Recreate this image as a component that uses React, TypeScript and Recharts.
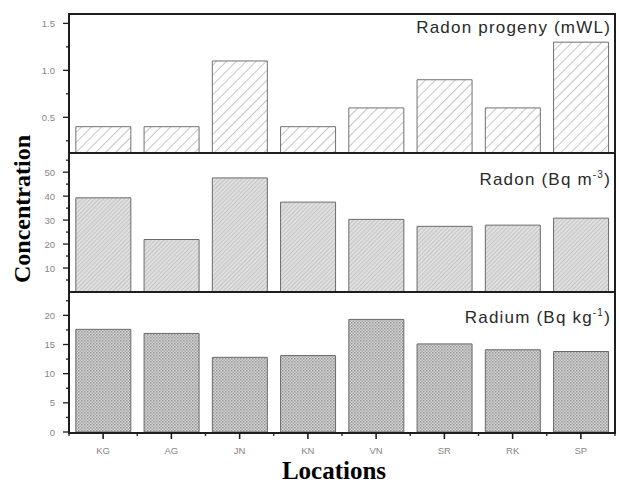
import React from "react"
import { Bar, BarChart, XAxis, YAxis } from "recharts"

const locations = ["KG", "AG", "JN", "KN", "VN", "SR", "RK", "SP"]
const progeny = [0.4, 0.4, 1.1, 0.4, 0.6, 0.9, 0.6, 1.3]
const radon = [39.3, 21.9, 47.6, 37.5, 30.3, 27.4, 27.9, 30.8]
const radium = [17.6, 16.9, 12.8, 13.1, 19.3, 15.1, 14.1, 13.8]

const progenyTicks = [0.25, 0.5, 0.75, 1.0, 1.25, 1.5]
const progenyLabels = [0.5, 1.0, 1.5]
const radonTicks = [5, 10, 15, 20, 25, 30, 35, 40, 45, 50, 55]
const radonLabels = [10, 20, 30, 40, 50]
const radiumTicks = [0, 2.5, 5, 7.5, 10, 12.5, 15, 17.5, 20, 22.5]
const radiumLabels = [0, 5, 10, 15, 20]

const W = 619
const LEFT = 69
const RIGHT = 4
const BAND = (W - LEFT - RIGHT) / locations.length
const FRAME = "#1e1e1e"
const TICK_TEXT = "#858585"

const rows = locations.map((name, i) => ({
    name,
    progeny: progeny[i],
    radon: radon[i],
    radium: radium[i],
}))

function makeYTick(labels: number[], fmt: (v: number) => string) {
    return (props: any) => {
        const { x, y, payload } = props
        const major = labels.includes(payload.value)
        return (
            <g>
                <line x1={x - (major ? 6 : 3)} x2={x} y1={y} y2={y} stroke={FRAME} strokeWidth={1.3} />
                {major && (
                    <text x={x - 14} y={y} dy={3.5} textAnchor="end" fontSize={9.5} fill={TICK_TEXT} fontFamily="Arial, Liberation Sans">
                        {fmt(payload.value)}
                    </text>
                )}
            </g>
        )
    }
}

function XTick(props: any) {
    const { x, y, payload, index } = props
    return (
        <g>
            <line x1={x} x2={x} y1={y} y2={y + 7} stroke={FRAME} strokeWidth={1.6} />
            <line x1={x - BAND / 2} x2={x - BAND / 2} y1={y} y2={y + 4} stroke={FRAME} strokeWidth={1.3} />
            {index === locations.length - 1 && (
                <line x1={x + BAND / 2} x2={x + BAND / 2} y1={y} y2={y + 4} stroke={FRAME} strokeWidth={1.3} />
            )}
            <text x={x} y={y + 22} textAnchor="middle" fontSize={9.5} fill={TICK_TEXT} fontFamily="Arial, Liberation Sans">
                {payload.value}
            </text>
        </g>
    )
}

function Patterns() {
    return (
        <defs>
            <pattern id="hatchWide" width="7" height="7" patternUnits="userSpaceOnUse" patternTransform="rotate(45)">
                <rect width="7" height="7" fill="#ffffff" />
                <line x1="0" y1="0" x2="0" y2="7" stroke="#8c8c8c" strokeWidth="1" />
            </pattern>
            <pattern id="hatchDense" width="3" height="3" patternUnits="userSpaceOnUse" patternTransform="rotate(45)">
                <rect width="3" height="3" fill="#e0e0e0" />
                <line x1="0" y1="0" x2="0" y2="3" stroke="#a2a2a2" strokeWidth="0.9" />
            </pattern>
            <pattern id="dots" width="3" height="3" patternUnits="userSpaceOnUse">
                <rect width="3" height="3" fill="#d4d4d4" />
                <rect x="0" y="0" width="1.5" height="1.5" fill="#969696" />
                <rect x="1.5" y="1.5" width="1.5" height="1.5" fill="#aaaaaa" />
            </pattern>
        </defs>
    )
}

const panelTitle: React.CSSProperties = {
    position: "absolute",
    right: 8,
    fontFamily: "Arial, 'Liberation Sans', sans-serif",
    fontSize: 17,
    letterSpacing: 1.2,
    color: "#2a2a2a",
    whiteSpace: "nowrap",
    lineHeight: 1,
}

const hLine = (top: number): React.CSSProperties => ({
    position: "absolute",
    left: LEFT - 1,
    top: top - 1,
    width: W - LEFT - RIGHT + 2,
    height: 2,
    background: FRAME,
})

export default function App() {
    return (
        <div style={{ position: "absolute", left: 0, top: 0, width: W, height: 482, background: "#fff" }}>
            {/* top panel: radon progeny */}
            <div style={{ position: "absolute", left: 0, top: 0 }}>
                <BarChart width={W} height={153} data={rows} margin={{ top: 14, right: RIGHT, left: 0, bottom: 0 }} barCategoryGap="10%">
                    <Patterns />
                    <XAxis dataKey="name" hide />
                    <YAxis
                        width={LEFT}
                        domain={[0.12, 1.6]}
                        ticks={progenyTicks}
                        interval={0}
                        tickSize={0}
                        tickMargin={0}
                        tickLine={false}
                        axisLine={false}
                        allowDataOverflow
                        tick={makeYTick(progenyLabels, (v) => v.toFixed(1))}
                    />
                    <Bar dataKey="progeny" fill="url(#hatchWide)" stroke="#707070" strokeWidth={1} isAnimationActive={false} />
                </BarChart>
                <div style={{ ...panelTitle, top: 19 }}>Radon progeny (mWL)</div>
            </div>

            {/* middle panel: radon */}
            <div style={{ position: "absolute", left: 0, top: 153 }}>
                <BarChart width={W} height={139} data={rows} margin={{ top: 0, right: RIGHT, left: 0, bottom: 0 }} barCategoryGap="10%">
                    <Patterns />
                    <XAxis dataKey="name" hide />
                    <YAxis
                        width={LEFT}
                        domain={[0, 58]}
                        ticks={radonTicks}
                        interval={0}
                        tickSize={0}
                        tickMargin={0}
                        tickLine={false}
                        axisLine={false}
                        allowDataOverflow
                        tick={makeYTick(radonLabels, (v) => String(v))}
                    />
                    <Bar dataKey="radon" fill="url(#hatchDense)" stroke="#6a6a6a" strokeWidth={1} isAnimationActive={false} />
                </BarChart>
                <div style={{ ...panelTitle, top: 17 }}>
                    Radon (Bq m<sup style={{ fontSize: 10 }}>-3</sup>)
                </div>
            </div>

            {/* bottom panel: radium */}
            <div style={{ position: "absolute", left: 0, top: 292 }}>
                <BarChart width={W} height={190} data={rows} margin={{ top: 0, right: RIGHT, left: 0, bottom: 0 }} barCategoryGap="10%">
                    <Patterns />
                    <XAxis
                        dataKey="name"
                        height={50}
                        interval={0}
                        tickSize={0}
                        tickMargin={0}
                        tickLine={false}
                        axisLine={false}
                        tick={<XTick />}
                    />
                    <YAxis
                        width={LEFT}
                        domain={[0, 24]}
                        ticks={radiumTicks}
                        interval={0}
                        tickSize={0}
                        tickMargin={0}
                        tickLine={false}
                        axisLine={false}
                        allowDataOverflow
                        tick={makeYTick(radiumLabels, (v) => String(v))}
                    />
                    <Bar dataKey="radium" fill="url(#dots)" stroke="#6a6a6a" strokeWidth={1} isAnimationActive={false} />
                </BarChart>
                <div style={{ ...panelTitle, top: 16 }}>
                    Radium (Bq kg<sup style={{ fontSize: 10 }}>-1</sup>)
                </div>
            </div>

            {/* frame around the three panels */}
            <div
                style={{
                    position: "absolute",
                    left: LEFT - 1,
                    top: 13,
                    width: W - LEFT - RIGHT - 2,
                    height: 432 - 13 - 2,
                    border: `2px solid ${FRAME}`,
                    pointerEvents: "none",
                }}
            />
            <div style={hLine(153)} />
            <div style={hLine(292)} />

            {/* axis titles */}
            <div
                style={{
                    position: "absolute",
                    left: 22,
                    top: 209,
                    transform: "translate(-50%, -50%) rotate(-90deg)",
                    fontFamily: "'Times New Roman', 'Liberation Serif', serif",
                    fontWeight: "bold",
                    fontSize: 24,
                    whiteSpace: "nowrap",
                    lineHeight: 1,
                }}
            >
                Concentration
            </div>
            <div
                style={{
                    position: "absolute",
                    left: 334,
                    top: 470,
                    transform: "translate(-50%, -50%)",
                    fontFamily: "'Times New Roman', 'Liberation Serif', serif",
                    fontWeight: "bold",
                    fontSize: 25,
                    whiteSpace: "nowrap",
                    lineHeight: 1,
                }}
            >
                Locations
            </div>
        </div>
    )
}
